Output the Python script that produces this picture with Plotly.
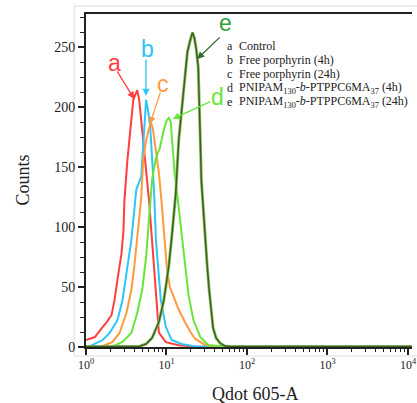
import numpy as np
import plotly.graph_objects as go

# ---- data (intensity, counts) ----
a_x = [1.0, 1.29, 1.57, 1.81, 2.08, 2.26, 2.46, 2.76, 2.92, 3.0, 3.27, 3.46, 3.66, 3.87, 4.33,
       4.58, 4.85, 5.27, 5.74, 6.07, 6.61, 6.99, 7.40, 8.05, 9.8, 14.2, 22.8, 11200]
a_y = [5.8, 8.3, 15.8, 20.8, 26.7, 39, 56, 78, 97, 122, 156, 172, 189, 206, 214,
       206, 189, 164, 139, 122, 89, 67, 39, 12, 4, 1.5, 0.3, 0.3]

b_x = [1.0, 1.12, 1.61, 1.97, 2.46, 2.84, 3.27, 3.66, 3.98, 4.21, 4.85, 4.99, 5.27, 5.42, 5.58,
       5.90, 6.25, 6.43, 6.99, 7.40, 8.05, 8.51, 9.80, 11.6, 15.4, 22.8, 11200]
b_y = [0.8, 0.8, 5.8, 11.7, 22.5, 39, 67, 89, 114, 131, 142, 156, 177, 197, 206,
       197, 185, 172, 131, 89, 60, 39, 17, 5.8, 2.5, 0.5, 0.5]

c_x = [1.0, 1.61, 2.14, 2.61, 3.18, 3.66, 3.98, 4.33, 4.85, 5.13, 5.58, 6.07, 6.43, 6.80, 7.19,
       8.05, 8.76, 9.53, 10.1, 11.0, 12.3, 14.2, 17.2, 19.8, 22.8, 30.3, 40.1, 11200]
c_y = [0.5, 0.8, 4.2, 11.7, 28.3, 47.5, 67, 93, 124, 156, 172, 182.5, 187, 181, 168,
       145, 118, 89, 66, 50, 41, 31, 20, 12.5, 6.7, 1.7, 0.5, 0.5]

d_x = [1.0, 2.14, 2.84, 3.66, 4.33, 4.99, 5.58, 6.07, 6.61, 7.40, 8.28, 9.27, 10.1, 10.7, 11.3,
       11.6, 12.3, 12.6, 13.4, 14.5, 15.8, 17.2, 18.8, 21.6, 26.3, 33.0, 43.7, 11200]
d_y = [0.5, 0.5, 4.2, 11.7, 28.3, 47.5, 75, 108, 139, 157.5, 166, 181, 189, 191, 187.5,
       177, 156, 145, 131, 110, 85, 64, 43, 22.5, 8.3, 1.7, 0.8, 0.8]

e_x = [1.0, 4.58, 5.58, 6.61, 8.05, 9.27, 10.1, 10.7, 11.6, 13.0, 14.2, 15.8, 17.2, 18.2, 19.8,
       21.0, 22.2, 23.5, 24.8, 25.6, 26.3, 27.1, 28.6, 30.3, 32.0, 33.9, 35.8, 37.9, 41.3, 46.2,
       53.2, 63.0, 11200]
e_y = [0.5, 0.5, 2.5, 7.5, 20.8, 39, 56, 68, 91, 127, 172.5, 206, 227, 246, 256,
       262, 257.5, 247.5, 233, 206, 172.5, 139, 114, 89, 68, 47.5, 31, 16, 7.5, 3.3,
       0.8, 0.5, 0.5]

x_tickvals = [1, 10, 100, 1000, 10000]
x_ticktext = ["10<sup>0</sup>", "10<sup>1</sup>", "10<sup>2</sup>", "10<sup>3</sup>", "10<sup>4</sup>"]
y_tickvals = [0, 50, 100, 150, 200, 250]

legend_letters = ["a", "b", "c", "d", "e"]
legend_labels = [
    "Control",
    "Free porphyrin (4h)",
    "Free porphyrin (24h)",
    "PNIPAM<sub>130</sub>-<i>b</i>-PTPPC6MA<sub>37</sub> (4h)",
    "PNIPAM<sub>130</sub>-<i>b</i>-PTPPC6MA<sub>37</sub> (24h)",
]

col_a = "#FF3F3F"
col_b = "#2CC6F7"
col_c = "#FF9A3E"
col_d = "#66E63A"
col_e = "#3F5E21"
col_e_halo = "#8CC466"

fig = go.Figure()
fig.add_trace(go.Scatter(x=a_x, y=a_y, mode="lines", line=dict(color=col_a, width=2)))
fig.add_trace(go.Scatter(x=b_x, y=b_y, mode="lines", line=dict(color=col_b, width=2)))
fig.add_trace(go.Scatter(x=c_x, y=c_y, mode="lines", line=dict(color=col_c, width=2)))
fig.add_trace(go.Scatter(x=d_x, y=d_y, mode="lines", line=dict(color=col_d, width=2)))
fig.add_trace(go.Scatter(x=e_x, y=e_y, mode="lines", line=dict(color=col_e_halo, width=3)))
fig.add_trace(go.Scatter(x=e_x, y=e_y, mode="lines", line=dict(color=col_e, width=1.5)))

minor_x = []
for dec in [1, 10, 100, 1000]:
    minor_x += [dec * k for k in range(2, 10)]

serif = "Liberation Serif, Times New Roman, serif"
sans = "Liberation Sans, Arial, sans-serif"

fig.update_layout(
    width=417, height=403,
    margin=dict(l=86, r=0, t=14, b=56),
    paper_bgcolor="white", plot_bgcolor="white",
    showlegend=False,
    font=dict(family=serif, color="#111"),
    xaxis=dict(
        type="log", range=[0, 4.05],
        tickmode="array", tickvals=x_tickvals, ticktext=x_ticktext,
        ticks="outside", ticklen=6, tickwidth=1.5, tickcolor="#222",
        tickfont=dict(family=serif, size=12, color="#222"),
        ticklabeloverflow="allow",
        showline=True, linecolor="#222", linewidth=2, mirror=True,
        showgrid=False, zeroline=False,
        minor=dict(tickmode="array", tickvals=minor_x, ticks="outside", ticklen=3,
                   tickwidth=1.2, tickcolor="#222", showgrid=False),
    ),
    yaxis=dict(
        range=[0, 277.5],
        tickmode="array", tickvals=y_tickvals,
        ticks="outside", ticklen=6, tickwidth=1.5, tickcolor="#222",
        tickfont=dict(family=serif, size=14, color="#222"),
        showline=True, linecolor="#222", linewidth=2, mirror=False,
        showgrid=False, zeroline=False,
        minor=dict(dtick=12.5, ticks="outside", ticklen=4, tickwidth=1.2,
                   tickcolor="#222", showgrid=False),
    ),
)

# light panel border
fig.add_shape(type="rect", xref="paper", yref="paper", x0=-0.036, x1=1.02, y0=-0.027, y1=1.024,
              line=dict(color="#DDDDDD", width=1), layer="below")

# axis titles
fig.add_annotation(xref="paper", yref="paper", x=0.52, y=-0.14, text="Qdot 605-A",
                   showarrow=False, font=dict(family=serif, size=18, color="#222"),
                   xanchor="center", yanchor="middle")
fig.add_annotation(xref="paper", yref="paper", x=-0.196, y=0.50, text="Counts", textangle=-90,
                   showarrow=False, font=dict(family=serif, size=18, color="#222"),
                   xanchor="center", yanchor="middle")

# curve letters and arrows
letters = [("a", 0.0876, 0.853, col_a), ("b", 0.190, 0.894, col_b), ("c", 0.236, 0.790, col_c),
           ("d", 0.402, 0.751, col_d), ("e", 0.428, 0.972, "#2E9E3A")]
for t, x, y, c in letters:
    fig.add_annotation(xref="paper", yref="paper", x=x, y=y, text=t, showarrow=False,
                       font=dict(family=sans, size=23, color=c), xanchor="center", yanchor="middle",
                       borderpad=0)

arrows = [(0.148, 0.745, -18, -29, col_a), (0.184, 0.754, 0, -38, col_b),
          (0.196, 0.670, 11, -33, col_c), (0.266, 0.685, 39, -18, col_d),
          (0.341, 0.865, 24, -23, "#2E6B2A")]
for x, y, ax, ay, c in arrows:
    fig.add_annotation(xref="paper", yref="paper", x=x, y=y, ax=ax, ay=ay, text="",
                       showarrow=True, arrowhead=2, arrowsize=1.1, arrowwidth=1.3, arrowcolor=c)

# legend text
leg_y = [0.904, 0.862, 0.819, 0.777, 0.735]
for t, lab, y in zip(legend_letters, legend_labels, leg_y):
    fig.add_annotation(xref="paper", yref="paper", x=0.429, y=y, text=t, showarrow=False,
                       font=dict(family=serif, size=12, color="#222"), xanchor="left", yanchor="middle",
                       borderpad=0)
    fig.add_annotation(xref="paper", yref="paper", x=0.465, y=y, text=lab, showarrow=False,
                       font=dict(family=serif, size=12, color="#222"), xanchor="left", yanchor="middle",
                       borderpad=0)

fig.write_html("out.html")
